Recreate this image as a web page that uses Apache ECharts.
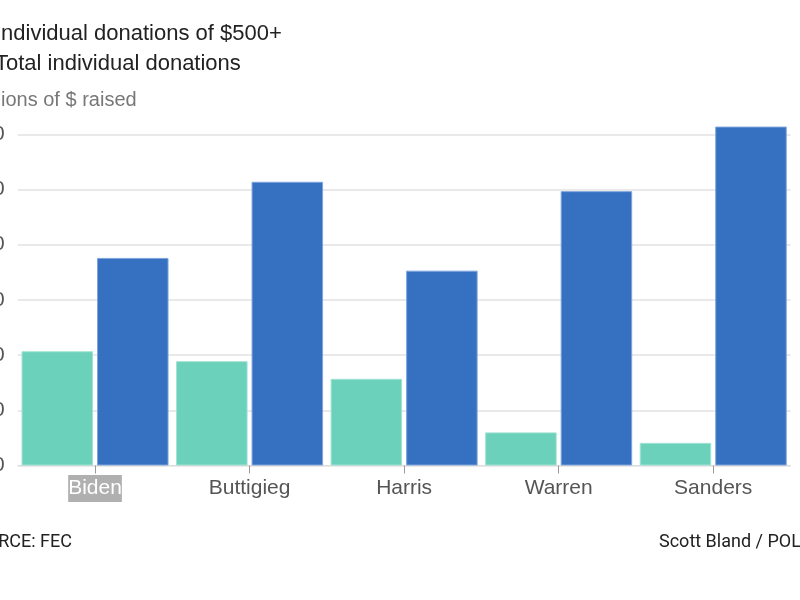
<!DOCTYPE html>
<html>
<head>
<meta charset="utf-8">
<script src="https://cdn.jsdelivr.net/npm/echarts@6/dist/echarts.min.js"></script>
<style>
  html, body { margin: 0; padding: 0; width: 800px; height: 600px; overflow: hidden; background: #fff; }
  #c { position: absolute; left: -120px; top: 0; width: 1040px; height: 600px; }
</style>
</head>
<body>
<div id="c"></div>
<script>
// Data (millions of $ raised)
const categories = ['Biden', 'Buttigieg', 'Harris', 'Warren', 'Sanders'];
const largeDonations = [20.7, 18.9, 15.7, 6.0, 4.1];   // Individual donations of $500+
const totalDonations = [37.6, 51.4, 35.3, 49.7, 61.4]; // Total individual donations
const seriesNames = ['Individual donations of $500+', 'Total individual donations'];
const yTicks = { min: 0, max: 60, interval: 10 };
const highlighted = 'Biden';

const FONT = '"Liberation Sans", Arial, sans-serif';
const chart = echarts.init(document.getElementById('c'), null, { renderer: 'canvas' });

chart.setOption({
  animation: false,
  backgroundColor: '#ffffff',
  color: ['#6bd1ba', '#3570c1'],
  title: [
    {
      text: 'Millions of $ raised',
      left: 91, top: 90, padding: 0,
      textStyle: { fontFamily: FONT, fontSize: 20, fontWeight: 'normal', color: '#777777' }
    },
    {
      text: 'SOURCE: FEC',
      right: 848, top: 533, padding: 0,
      textStyle: { fontFamily: '"Liberation Sans Narrow", "Arial Narrow", Roboto, sans-serif', fontSize: 18, fontWeight: 'normal', color: '#222222' }
    },
    {
      text: 'Scott Bland / POLITICO',
      left: 779, top: 533, padding: 0,
      textStyle: { fontFamily: 'Roboto, ' + FONT, fontSize: 18, fontWeight: 'normal', color: '#222222' }
    }
  ],
  legend: {
    orient: 'vertical',
    left: 89, top: 22, padding: 0,
    itemWidth: 20, itemHeight: 18, itemGap: 6,
    icon: 'rect',
    selectedMode: false,
    data: seriesNames,
    textStyle: { fontFamily: FONT, fontSize: 22, color: '#222222', lineHeight: 24 }
  },
  grid: { left: 137.75, right: 129.5, top: 134.3, bottom: 134.5, containLabel: false },
  xAxis: {
    type: 'category',
    data: categories,
    axisLine: { show: true, lineStyle: { color: '#dddddd', width: 1 } },
    axisTick: { show: true, alignWithLabel: true, length: 8, lineStyle: { color: '#9a9a9a' } },
    axisLabel: {
      margin: 11,
      fontFamily: FONT, fontSize: 21, color: '#555555', lineHeight: 24,
      formatter: v => v === highlighted ? '{hl|' + v + '}' : '{n|' + v + '}',
      rich: {
        n: { fontFamily: FONT, fontSize: 21, color: '#555555', lineHeight: 24, padding: [3, 0, 3, 0] },
        hl: { fontFamily: FONT, fontSize: 21, color: '#ffffff', lineHeight: 24, backgroundColor: '#b0b0b0', padding: [3, 0, 3, 0] }
      }
    }
  },
  yAxis: {
    type: 'value',
    min: yTicks.min, max: yTicks.max, interval: yTicks.interval,
    axisLine: { show: false },
    axisTick: { show: false },
    axisLabel: { margin: 13, fontFamily: FONT, fontSize: 21, color: '#555555' },
    splitLine: { lineStyle: { color: '#e2e2e2', width: 1.5 } }
  },
  series: [
    {
      name: seriesNames[0], type: 'bar', data: largeDonations, clip: false,
      barWidth: 71.5, barGap: '5.6%',
      itemStyle: { color: '#6bd1ba', borderColor: '#9fe2d2', borderWidth: 1 }
    },
    {
      name: seriesNames[1], type: 'bar', data: totalDonations, clip: false,
      barWidth: 71.5, barGap: '5.6%',
      itemStyle: { color: '#3570c1', borderColor: '#7ea3dc', borderWidth: 1 }
    }
  ]
});
</script>
</body>
</html>
